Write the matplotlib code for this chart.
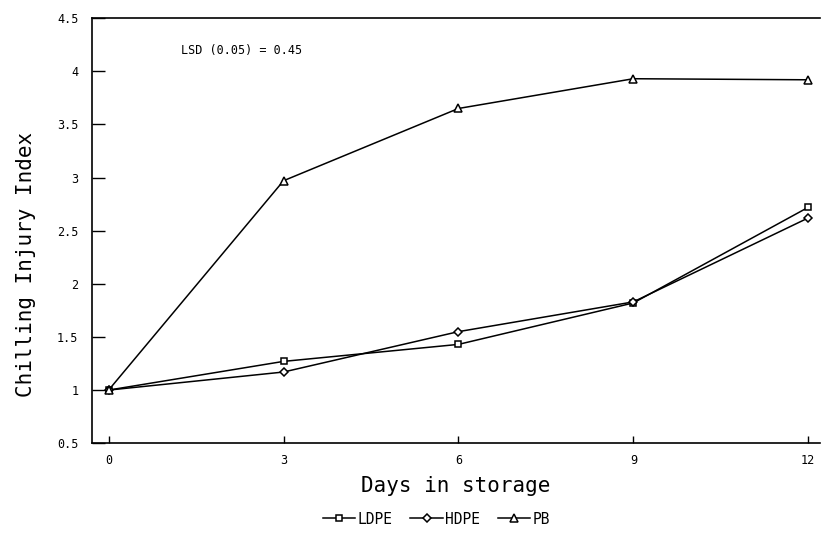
import matplotlib
matplotlib.use("Agg")
import matplotlib.pyplot as plt
from matplotlib.lines import Line2D

# Datos
days = [0, 3, 6, 9, 12]
ldpe = [1.00, 1.27, 1.43, 1.82, 2.72]
hdpe = [1.00, 1.17, 1.55, 1.83, 2.62]
pb = [1.00, 2.97, 3.65, 3.93, 3.92]
series_names = ["LDPE", "HDPE", "PB"]
y_ticks = [0.5, 1, 1.5, 2, 2.5, 3, 3.5, 4, 4.5]
y_tick_labels = ["0.5", "1", "1.5", "2", "2.5", "3", "3.5", "4", "4.5"]

mono = "DejaVu Sans Mono"

fig = plt.figure(figsize=(8.24, 5.34), dpi=100)
ax = fig.add_axes([0.112, 0.170, 0.883, 0.796])

styles = [dict(marker="s", ms=5), dict(marker="D", ms=4), dict(marker="^", ms=5.5)]
for vals, st in zip([ldpe, hdpe, pb], styles):
    ax.plot(days, vals, color="black", lw=1.1, mfc="white", mec="black", mew=1.1, **st)

ax.set_xlim(-0.28, 12.2)
ax.set_ylim(0.5, 4.5)
ax.set_xticks(days)
ax.set_yticks(y_ticks)
ax.set_yticklabels(y_tick_labels)
ax.tick_params(direction="in", width=1, labelsize=8.5)
ax.tick_params(axis="x", pad=8, length=5)
ax.tick_params(axis="y", pad=10, length=9)
for lab in ax.get_xticklabels() + ax.get_yticklabels():
    lab.set_family(mono)
ax.spines["right"].set_visible(False)
for s in ["left", "top", "bottom"]:
    ax.spines[s].set_linewidth(1.2)

ax.set_xlabel("Days in storage", fontsize=15, family=mono, labelpad=6)
ax.set_ylabel("Chilling Injury Index", fontsize=15, family=mono)
ax.yaxis.set_label_coords(-0.078, 0.42)
ax.text(1.25, 4.2, "LSD (0.05) = 0.45", fontsize=8.5, family=mono, va="center")

handles = [Line2D([], [], color="black", lw=1.1, mfc="white", mec="black", mew=1.1, **st)
           for st in styles]
fig.legend(handles, series_names, loc="center", bbox_to_anchor=(0.53, 0.028), ncol=3,
           frameon=False, handlelength=2.2, handletextpad=0.2, columnspacing=1.2,
           prop={"family": mono, "size": 10.5})

fig.savefig("out.png", dpi=100)
plt.close()
